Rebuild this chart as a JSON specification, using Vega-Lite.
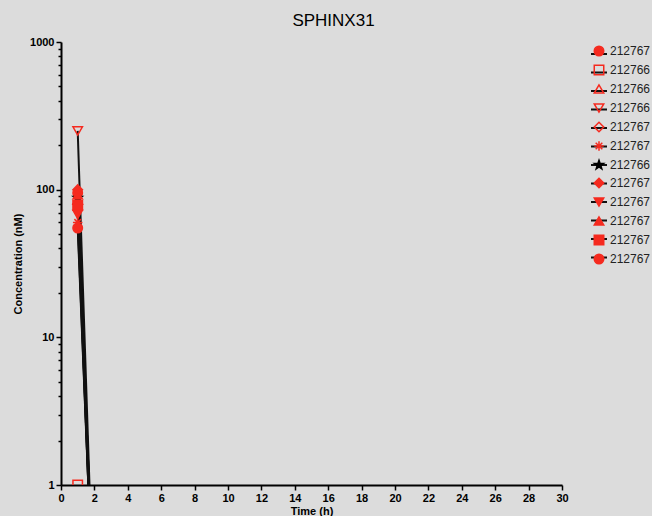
{
  "$schema": "https://vega.github.io/schema/vega-lite/v6.json",
  "width": 501,
  "height": 443,
  "autosize": "none",
  "padding": {"left": 61, "top": 42, "right": 90, "bottom": 31},
  "background": "#dcdcdc",
  "config": {
    "font": "Liberation Sans",
    "view": {"stroke": null},
    "axis": {"grid": false, "domainColor": "#000", "domainWidth": 2, "tickColor": "#000", "tickWidth": 1.5, "labelColor": "#000", "titleColor": "#000", "labelFontWeight": "bold", "titleFontWeight": "bold", "labelFontSize": 11, "titleFontSize": 11}
  },
  "title": {"text": "SPHINX31", "fontSize": 17, "fontWeight": "normal", "color": "#000", "anchor": "middle", "frame": "group", "offset": 6, "dx": 22},
  "data": {
    "values": [
      {"id": "01 212767", "lid": "01 212767", "t": 1, "c": 95},
      {"id": "01 212767", "lid": "01 212767", "t": 2, "c": 0.1},
      {"id": "02 212766", "lid": "02 212766", "t": 1, "c": 1},
      {"id": "02 212766", "lid": "02 212766", "t": 2, "c": 0.1},
      {"id": "03 212766", "lid": "03 212766", "t": 1, "c": 85},
      {"id": "03 212766", "lid": "03 212766", "t": 2, "c": 0.12},
      {"id": "04 212766", "lid": "04 212766", "t": 1, "c": 250},
      {"id": "04 212766", "lid": "04 212766", "t": 2, "c": 0.1},
      {"id": "05 212767", "lid": "05 212767", "t": 1, "c": 80},
      {"id": "05 212767", "lid": "05 212767", "t": 2, "c": 0.08},
      {"id": "06 212767", "lid": "06 212767", "t": 1, "c": 60},
      {"id": "06 212767", "lid": "06 212767", "t": 2, "c": 0.1},
      {"id": "07 212766", "lid": "07 212766", "t": 1, "c": 88},
      {"id": "07 212766", "lid": "07 212766", "t": 2, "c": 0.12},
      {"id": "08 212767", "lid": "08 212767", "t": 1, "c": 100},
      {"id": "08 212767", "lid": "08 212767", "t": 2, "c": 0.09},
      {"id": "09 212767", "lid": "09 212767", "t": 1, "c": 68},
      {"id": "09 212767", "lid": "09 212767", "t": 2, "c": 0.11},
      {"id": "10 212767", "lid": "10 212767", "t": 1, "c": 92},
      {"id": "10 212767", "lid": "10 212767", "t": 2, "c": 0.1},
      {"id": "11 212767", "lid": "11 212767", "t": 1, "c": 78},
      {"id": "11 212767", "lid": "11 212767", "t": 2, "c": 0.13},
      {"id": "12 212767", "lid": "12 212767", "t": 1, "c": 55},
      {"id": "12 212767", "lid": "12 212767", "t": 2, "c": 0.1}
    ]
  },
  "encoding": {
    "x": {"field": "t", "type": "quantitative", "title": "Time (h)",
      "scale": {"domain": [0, 30], "nice": false, "zero": false},
      "axis": {"values": [0,2,4,6,8,10,12,14,16,18,20,22,24,26,28,30], "tickSize": 5, "labelPadding": 2, "titlePadding": 2, "labelFlush": false}},
    "y": {"field": "c", "type": "quantitative", "title": "Concentration (nM)",
      "scale": {"type": "log", "domain": [1, 1000], "nice": false},
      "axis": {"values": [1,2,3,4,5,6,7,8,9,10,20,30,40,50,60,70,80,90,100,200,300,400,500,600,700,800,900,1000],
        "format": "d",
        "labelExpr": "indexof([1,10,100,1000], datum.value) >= 0 ? datum.label : ''",
        "tickSize": {"condition": {"test": "indexof([1,10,100,1000], datum.value) >= 0", "value": 5}, "value": 3},
        "labelPadding": 2, "titlePadding": 6, "labelFlush": false}}
  },
  "layer": [
    {
      "mark": {"type": "line", "clip": true, "strokeWidth": 2, "color": "#111"},
      "encoding": {
        "strokeDash": {"field": "lid", "type": "nominal",
          "scale": {"range": [[1,0],[1,0],[1,0],[1,0],[1,0],[1,0],[1,0],[1,0],[1,0],[1,0],[1,0],[1,0]]},
          "legend": {"orient": "none", "legendX": 529, "legendY": 3, "title": null, "symbolType": "stroke", "symbolSize": 256, "symbolStrokeWidth": 2, "symbolStrokeColor": "#111", "labelFontSize": 12, "labelOpacity": 0, "labelColor": "transparent", "rowPadding": 3.5, "padding": 0, "labelOffset": 4, "labelExpr": "''"}}
      }
    },
    {
      "mark": {"type": "point", "clip": true, "size": 90, "strokeWidth": 1.5, "opacity": 1},
      "encoding": {
        "shape": {"field": "id", "type": "nominal",
          "scale": {"range": ["circle", "square", "triangle-up", "triangle-down", "diamond",
            "M0,-1V1M-1,0H1M-0.7,-0.7L0.7,0.7M-0.7,0.7L0.7,-0.7",
            "M0,-1L0.235,-0.324L0.951,-0.309L0.38,0.124L0.588,0.809L0,0.4L-0.588,0.809L-0.38,0.124L-0.951,-0.309L-0.235,-0.324Z",
            "diamond", "triangle-down", "triangle-up", "square", "circle"]},
          "legend": {"orient": "none", "legendX": 532, "legendY": 3, "title": null, "symbolSize": 90, "symbolStrokeWidth": 1.5, "labelFontSize": 12, "labelColor": "#222", "rowPadding": 3, "padding": 0, "labelOffset": 5, "labelExpr": "slice(datum.label, 3)"}},
        "fill": {"field": "id", "type": "nominal",
          "scale": {"range": ["#f52a1f", "transparent", "transparent", "transparent", "transparent", "transparent", "#000", "#f52a1f", "#f52a1f", "#f52a1f", "#f52a1f", "#f52a1f"]}},
        "stroke": {"field": "id", "type": "nominal",
          "scale": {"range": ["#f52a1f", "#f52a1f", "#f52a1f", "#f52a1f", "#f52a1f", "#f52a1f", "#000", "#f52a1f", "#f52a1f", "#f52a1f", "#f52a1f", "#f52a1f"]}}
      }
    }
  ]
}
